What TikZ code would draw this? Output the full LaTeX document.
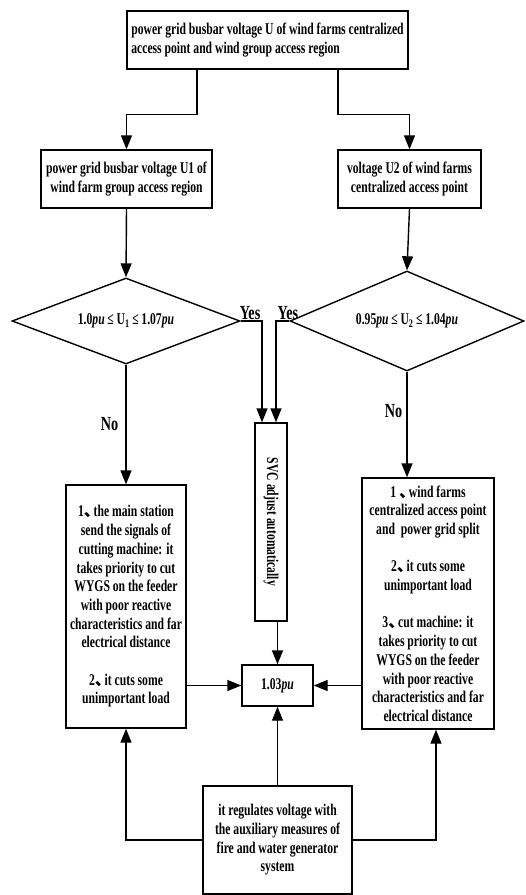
\documentclass[tikz,border=0pt]{standalone}
\usepackage{fontspec}
\setmainfont{Liberation Serif}[FakeStretch=0.71]
\newfontfamily\cjk{Noto Sans CJK SC}
\usetikzlibrary{arrows.meta,calc,shapes.geometric}
\newcommand{\dun}{\makebox[0.6em][l]{\cjk 、}}
\begin{document}
\begin{tikzpicture}[x=1pt,y=-1pt,line width=1.4pt,
    font=\bfseries\fontsize{16.4}{18.7}\selectfont,
    box/.style={draw, inner sep=1pt, align=center},
    cond/.style={draw, diamond, inner sep=0pt, aspect=2.5},
    flow/.style={-{Triangle[length=14pt,width=11pt]}},
    tag/.style={font=\bfseries\fontsize{20}{20}\selectfont, inner sep=1pt}]
  \useasboundingbox (0,0) rectangle (526,895);
  % boxes, at pixel coordinates of the scheme
  \node[box, align=left, minimum width=281, minimum height=58] (top) at (267.5,40)
    {power grid busbar voltage U of wind farms centralized\\access point and wind group access region};
  \node[box, minimum width=171, minimum height=58] (u1) at (126.5,179)
    {power grid busbar voltage U1 of\\wind farm group access region};
  \node[box, minimum width=143, minimum height=58] (u2) at (409.5,179)
    {voltage U2 of wind farms\\centralized access point};
  \node[cond, minimum width=228, minimum height=86] (c1) at (126,321)
    {1.0\textit{pu}\,≤\,U\textsubscript{1}\,≤\,1.07\textit{pu}};
  \node[cond, minimum width=234, minimum height=100] (c2) at (407,321)
    {0.95\textit{pu}\,≤\,U\textsubscript{2}\,≤\,1.04\textit{pu}};
  \node[box, minimum width=32, minimum height=198] (svc) at (271,522)
    {\rotatebox{-90}{SVC adjust automatically}};
  \node[box, minimum width=120, minimum height=243] (cut1) at (126,606.5)
    {1\dun the main station\\send the signals of\\cutting machine: it\\takes priority to cut\\WYGS on the feeder\\with poor reactive\\characteristics and far\\electrical distance\\[18.7pt]2\dun it cuts some\\unimportant load};
  \node[box, minimum width=132, minimum height=251] (cut2) at (428,603.5)
    {1 \dun wind farms\\centralized access point\\and\ \ power grid split\\[18.7pt]2\dun it cuts some\\unimportant load\\[18.7pt]3\dun cut machine: it\\takes priority to cut\\WYGS on the feeder\\with poor reactive\\characteristics and far\\electrical distance};
  \node[box, minimum width=71, minimum height=41] (pu) at (277.5,685.5) {1.03\textit{pu}};
  \node[box, minimum width=149, minimum height=108] (aux) at (277.5,840)
    {it regulates voltage with\\the auxiliary measures of\\fire and water generator\\system};
  % connectors
  \begin{scope}[flow]
    \draw ($(top.south west)!0.25!(top.south east)$) -- ++(0,45) -| (u1.north);
    \draw ($(top.south west)!0.75!(top.south east)$) -- ++(0,45) -| (u2.north);
    \draw (u1.south) -- (c1.north);
    \draw (u2.south) -- (c2.north);
    \draw (c1.east) -| node[tag, above left]{Yes} ([xshift=-9pt]svc.north);
    \draw (c2.west) -| node[tag, above right]{Yes} ([xshift=5pt]svc.north);
    \draw (c1.south) -- node[tag, left=6pt]{No} (cut1.north);
    \draw (c2.south) -- node[tag, left=3pt, pos=0.37]{No} (c2.south |- cut2.north);
    \draw (svc.south -| pu.north) -- (pu.north);
    \draw (cut1.east |- pu.west) -- (pu.west);
    \draw (cut2.west |- pu.east) -- (pu.east);
    \draw (aux.north) -- (pu.south);
    \draw (aux.west) -| (cut1.south);
    \draw (aux.east) -| ([xshift=8pt]cut2.south);
  \end{scope}
\end{tikzpicture}
\end{document}
